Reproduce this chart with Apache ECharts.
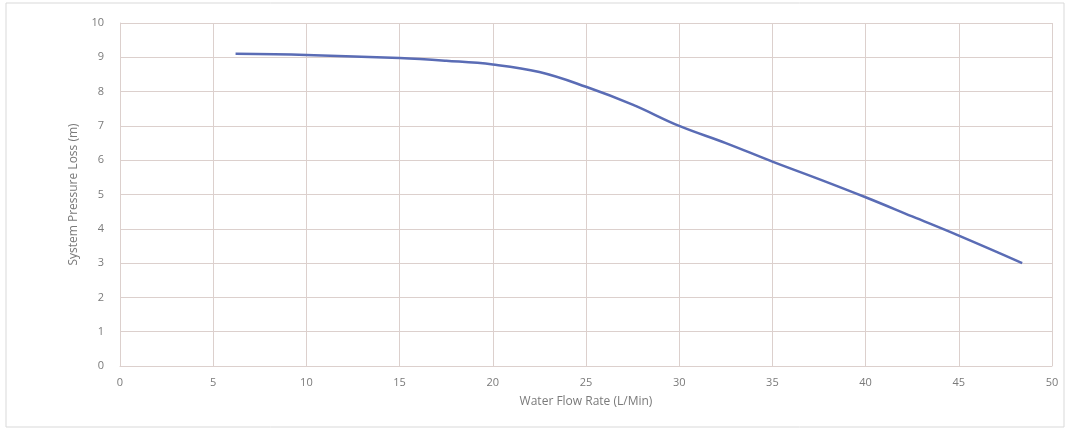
<!DOCTYPE html>
<html>
<head>
<meta charset="utf-8">
<script src="https://cdn.jsdelivr.net/npm/echarts@6/dist/echarts.min.js"></script>
<style>
  html, body { margin: 0; padding: 0; background: #fff; }
  #chart { width: 1069px; height: 428px; }
</style>
</head>
<body>
<div id="chart"></div>
<script>
// flow rate (L/Min) and pressure loss (m)
const flowRate = [6.2, 10, 15, 17.5, 20, 22.5, 25, 27.5, 30, 32.5, 35, 37.5, 40, 42.5, 45, 48.4];
const pressureLoss = [9.1, 9.07, 8.98, 8.9, 8.79, 8.57, 8.14, 7.62, 7.0, 6.5, 5.96, 5.45, 4.92, 4.36, 3.8, 3.0];

const xTicks = [0, 5, 10, 15, 20, 25, 30, 35, 40, 45, 50];
const yTicks = [0, 1, 2, 3, 4, 5, 6, 7, 8, 9, 10];

const points = flowRate.map((x, i) => [x, pressureLoss[i]]);

const chart = echarts.init(document.getElementById('chart'));

const gridColor = '#dcd0cd';
const textColor = '#7a7a7a';

chart.setOption({
  animation: false,
  textStyle: { fontFamily: 'Open Sans, sans-serif' },
  graphic: [{
    type: 'rect',
    shape: { x: 6, y: 3, width: 1058, height: 424 },
    style: { fill: 'none', stroke: '#d9d9d9', lineWidth: 1 },
    silent: true
  }],
  grid: { left: 120, right: 17, top: 23, bottom: 62 },
  xAxis: {
    type: 'value',
    min: xTicks[0],
    max: xTicks[xTicks.length - 1],
    interval: 5,
    name: 'Water Flow Rate (L/Min)',
    nameLocation: 'middle',
    nameGap: 30,
    nameTextStyle: { color: textColor, fontSize: 12 },
    axisLine: { show: true, lineStyle: { color: gridColor } },
    axisTick: { show: false },
    axisLabel: { color: textColor, fontSize: 11, margin: 11 },
    splitLine: { show: true, lineStyle: { color: gridColor, width: 1 } }
  },
  yAxis: {
    type: 'value',
    min: yTicks[0],
    max: yTicks[yTicks.length - 1],
    interval: 1,
    name: 'System Pressure Loss (m)',
    nameLocation: 'middle',
    nameGap: 40,
    nameTextStyle: { color: textColor, fontSize: 12 },
    axisLine: { show: true, lineStyle: { color: gridColor } },
    axisTick: { show: false },
    axisLabel: { color: textColor, fontSize: 11, margin: 16 },
    splitLine: { show: true, lineStyle: { color: gridColor, width: 1 } }
  },
  series: [{
    type: 'line',
    data: points,
    smooth: 0.4,
    showSymbol: false,
    lineStyle: { color: '#5a6cb5', width: 2.5 }
  }]
});
</script>
</body>
</html>
